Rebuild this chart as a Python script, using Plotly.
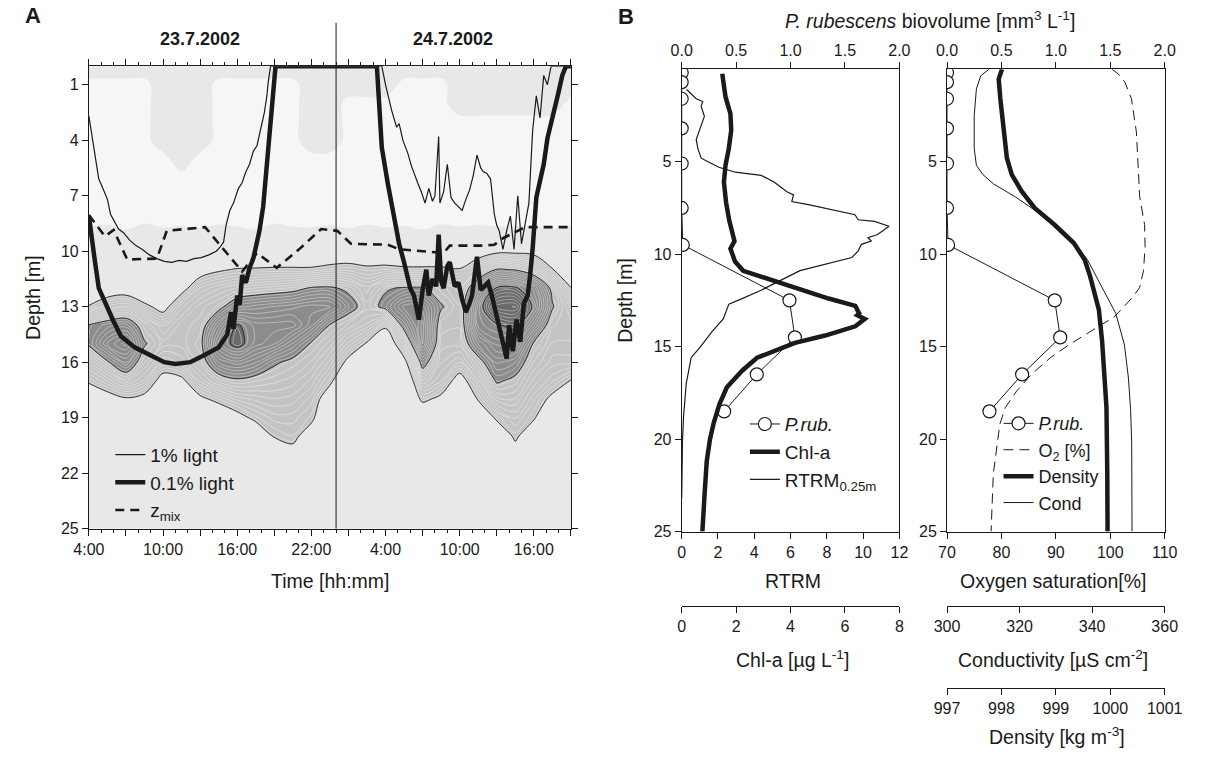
import numpy as np
import plotly.graph_objects as go

# ---------------- Panel A data ----------------
hours = [4, 5.5, 7, 8.5, 10, 11.5, 13, 14.5, 16, 17.5, 19, 20.5, 22, 23.5, 25,
         26.5, 28, 29.5, 31, 32.5, 34, 35.5, 37, 38.5, 40, 41.5, 43]
grid_depths = list(range(26))
# P. rubescens biovolume profiles (one per time column, depth 0..25 m)
biovol_profiles = [
    [0.3,0,0,0,0,0,0,0,0,0.15, 0.3,0.3,0.3,0.62,1.11,1.13,0.86,0.64,0.36,0.3,0.3,0.3,0.3,0.3,0.3,0.3],
    [0.3,0,0,0,0,0,0,0,0,0.18, 0.3,0.3,0.42,0.79,1.2,1.38,1.08,0.78,0.48,0.3,0.3,0.3,0.3,0.3,0.3,0.3],
    [0.3,0,0,0,0,0,0,0,0,0.12, 0.3,0.3,0.45,0.85,1.25,1.5,1.28,0.95,0.57,0.3,0.3,0.3,0.3,0.3,0.3,0.3],
    [0.3,0,0,0,0,0,0,0,0,0.2, 0.3,0.3,0.36,0.66,1.0,1.12,0.98,0.81,0.51,0.3,0.3,0.3,0.3,0.3,0.3,0.3],
    [0.3,0.3,0.3,0.3,0.3,0,0,0,0,0.14, 0.3,0.3,0.3,0.51,0.81,0.95,0.78,0.48,0.3,0.3,0.3,0.3,0.3,0.3,0.3,0.3],
    [0.3,0.3,0.3,0.3,0.3,0.3,0,0,0,0.16, 0.3,0.3,0.51,0.81,0.95,0.95,0.84,0.54,0.3,0.3,0.3,0.3,0.3,0.3,0.3,0.3],
    [0.3,0.3,0.3,0.3,0.3,0,0,0,0,0.13, 0.3,0.48,0.78,0.95,1.0,1.05,1.0,0.84,0.54,0.3,0.3,0.3,0.3,0.3,0.3,0.3],
    [0.3,0,0,0,0,0,0,0,0,0.18, 0.3,0.57,0.87,1.04,1.34,1.5,1.28,1.0,0.67,0.36,0.3,0.3,0.3,0.3,0.3,0.3],
    [0.3,0,0,0,0,0,0,0,0,0.15, 0.3,0.62,0.93,1.25,1.62,1.66,1.36,1.07,0.79,0.51,0.3,0.3,0.3,0.3,0.3,0.3],
    [0.3,0,0,0,0,0,0,0,0,0.12, 0.3,0.63,0.98,1.3,1.5,1.5,1.28,1.03,0.84,0.66,0.39,0.3,0.3,0.3,0.3,0.3],
    [0.3,0,0,0,0,0,0,0,0,0.19, 0.33,0.64,1.01,1.33,1.5,1.43,1.13,0.99,0.87,0.75,0.62,0.36,0.3,0.3,0.3,0.3],
    [0.3,0,0,0,0,0,0,0,0,0.15, 0.33,0.64,1.04,1.36,1.5,1.27,1.05,0.95,0.85,0.75,0.67,0.5,0.3,0.3,0.3,0.3],
    [0.3,0.3,0.3,0.3,0.3,0,0,0,0,0.14, 0.33,0.64,1.12,1.4,1.34,1.08,0.97,0.86,0.75,0.66,0.45,0.3,0.3,0.3,0.3,0.3],
    [0.3,0.3,0.3,0.3,0.3,0,0,0,0,0.17, 0.36,0.69,1.13,1.4,1.09,0.95,0.81,0.66,0.42,0.3,0.3,0.3,0.3,0.3,0.3,0.3],
    [0.3,0.3,0,0,0,0,0,0,0,0.13, 0.39,0.71,1.06,1.19,0.96,0.76,0.54,0.3,0.3,0.3,0.3,0.3,0.3,0.3,0.3,0.3],
    [0.3,0.3,0,0,0,0,0,0,0,0.18, 0.36,0.66,0.9,1.0,0.86,0.58,0.3,0.3,0.3,0.3,0.3,0.3,0.3,0.3,0.3,0.3],
    [0.3,0.3,0,0,0,0,0,0,0,0.14, 0.36,0.68,1.08,1.16,0.66,0.33,0.3,0.3,0.3,0.3,0.3,0.3,0.3,0.3,0.3,0.3],
    [0.3,0,0,0,0,0,0,0,0,0.16, 0.33,0.65,1.12,1.4,1.19,0.85,0.51,0.3,0.3,0.3,0.3,0.3,0.3,0.3,0.3,0.3],
    [0.3,0,0,0,0,0,0,0,0,0.12, 0.33,0.65,1.12,1.4,1.5,1.49,1.19,0.92,0.65,0.36,0.3,0.3,0.3,0.3,0.3,0.3],
    [0.3,0,0,0,0,0,0,0,0,0.18, 0.33,0.65,1.0,1.12,1.0,0.95,0.88,0.78,0.54,0.3,0.3,0.3,0.3,0.3,0.3,0.3],
    [0.3,0.3,0.3,0,0,0,0,0,0,0.15, 0.3,0.62,0.9,0.98,0.98,0.95,0.78,0.48,0.3,0.3,0.3,0.3,0.3,0.3,0.3,0.3],
    [0.3,0.3,0.3,0,0,0,0,0,0,0.17, 0.42,0.89,1.31,1.5,1.5,1.28,1.02,0.81,0.62,0.33,0.3,0.3,0.3,0.3,0.3,0.3],
    [0.3,0.3,0.3,0,0,0,0,0,0,0.15, 0.54,1.12,1.62,1.9,1.58,1.44,1.29,1.13,0.9,0.65,0.36,0.3,0.3,0.3,0.3,0.3],
    [0.3,0.3,0.3,0,0,0,0,0,0,0.15, 0.54,1.09,1.63,1.93,1.66,1.43,1.23,1.05,0.92,0.78,0.65,0.47,0.3,0.3,0.3,0.3],
    [0.3,0.3,0.3,0,0,0,0,0,0,0.15, 0.51,0.95,1.45,1.56,1.34,1.08,0.97,0.86,0.74,0.63,0.39,0.3,0.3,0.3,0.3,0.3],
    [0.3,0.3,0.3,0,0,0,0,0,0,0.13, 0.32,0.62,1.04,1.12,0.98,0.92,0.85,0.74,0.54,0.3,0.3,0.3,0.3,0.3,0.3,0.3],
    [0.3,0.3,0,0,0,0,0,0,0,0.16, 0.3,0.3,0.61,0.85,0.95,0.92,0.85,0.59,0.33,0.3,0.3,0.3,0.3,0.3,0.3,0.3],
]

light1_h = [4.0, 4.2, 4.4, 4.6, 4.8, 5.0, 5.3, 5.5, 5.75, 6.0, 6.4, 6.8, 7.3, 7.8, 8.3, 8.9, 9.5,
            10.1, 10.7, 11.3, 11.9, 12.5, 13.1, 13.7, 14.3, 14.6, 14.9, 15.1, 15.4, 15.7, 16.1,
            16.4, 16.7, 17.0, 17.3, 17.6, 17.8, 18.0, 18.2, 18.4, 18.5, 18.7, 27.7, 28.0, 28.2,
            28.5, 28.9, 29.1, 29.4, 29.8, 30.1, 30.3, 30.6, 30.9, 31.2, 31.5, 31.8, 32.0, 32.3,
            32.4, 32.7, 33.0, 33.3, 33.6, 34.2, 34.5, 34.8, 35.1, 35.4, 35.7, 35.9, 36.2, 36.5,
            36.8, 37.0, 37.2, 37.5, 37.8, 38.1, 38.4, 38.7, 39.0, 39.3, 39.6, 39.9, 40.2, 40.5,
            40.8, 41.1, 41.4, 43.0]
light1_d = [2.7, 3.6, 4.4, 5.3, 6.1, 6.4, 6.9, 7.2, 8.0, 8.3, 8.8, 9.0, 9.4, 9.7, 9.9, 10.2, 10.4,
            10.55, 10.6, 10.5, 10.55, 10.4, 10.35, 10.2, 10.0, 9.8, 9.5, 8.6, 7.8, 7.4, 6.6,
            6.3, 5.7, 5.3, 4.6, 4.3, 3.7, 3.2, 2.5, 1.6, 0.9, 0.0, 0.0, 1.0, 1.6,
            2.4, 3.3, 3.1, 4.0, 4.7, 5.4, 5.8, 6.3, 6.8, 7.4, 6.6, 7.3, 7.0, 3.8,
            7.4, 6.8, 5.3, 7.1, 7.4, 7.8, 7.2, 6.7, 5.9, 4.8, 5.5, 5.7, 5.8, 6.1,
            8.0, 8.6, 8.9, 9.9, 8.9, 8.1, 9.9, 7.0, 9.6, 8.4, 7.4, 3.5, 1.6, 2.8,
            0.5, 1.0, 0.0, 0.0]

light01_h = [4.0, 4.2, 4.5, 4.8, 5.3, 6.0, 6.6, 7.7, 8.9, 10.1, 11.0, 12.2, 13.4, 14.5, 15.2,
             15.5, 15.7, 16.0, 16.2, 16.4, 16.7, 17.0, 17.3, 17.8, 18.1, 18.5, 18.8, 19.1, 27.3,
             27.7, 28.2, 28.5, 28.8, 29.1, 29.5, 30.0, 30.3, 30.7, 31.0, 31.3, 31.5, 31.8, 32.1,
             32.3, 32.5, 32.7, 33.0, 33.2, 33.6, 33.9, 34.2, 34.5, 34.8, 35.0, 35.4, 35.7, 36.0,
             36.3, 36.6, 37.0, 37.3, 37.5, 37.8, 38.0, 38.3, 38.6, 38.9, 39.2, 39.5, 39.7, 39.9,
             40.2, 40.5, 40.8, 41.1, 41.6, 42.0, 42.3, 42.6, 43.0]
light01_d = [8.1, 9.2, 10.6, 12.0, 12.8, 13.8, 14.6, 15.2, 15.6, 16.0, 16.1, 16.0, 15.6, 15.2, 14.5,
             13.3, 14.2, 12.4, 12.9, 11.3, 11.7, 10.9, 10.4, 8.9, 7.6, 4.4, 1.7, 0.0, 0.0,
             4.4, 6.4, 7.4, 8.7, 9.6, 10.6, 12.0, 12.4, 13.7, 12.1, 11.0, 12.4, 11.5, 11.9,
             9.1, 11.6, 12.0, 10.8, 10.6, 11.9, 11.7, 12.6, 13.3, 12.8, 12.4, 10.3, 12.1, 11.9,
             11.7, 12.4, 13.5, 14.2, 14.9, 15.8, 14.0, 15.4, 13.7, 14.9, 12.8, 12.4, 11.3, 9.9,
             7.1, 6.2, 5.3, 3.9, 2.6, 1.4, 0.5, 0.0, 0.0]

zmix_h = [4.0, 5.3, 6.0, 7.1, 9.5, 10.3, 13.4, 14.9, 16.4, 17.6, 19.2, 21.0, 22.8, 24.1, 25.2,
          28.2, 29.1, 32.7, 33.2, 35.7, 36.8, 37.5, 39.3, 43.0]
zmix_d = [8.05, 9.2, 8.85, 10.45, 10.4, 8.9, 8.7, 9.9, 11.1, 10.1, 10.9, 9.9, 8.8, 8.9, 9.6,
          9.65, 9.9, 10.1, 9.7, 9.7, 9.65, 9.3, 8.7, 8.7]

midnight = 24
day_labels = ["23.7.2002", "24.7.2002"]
day_label_hours = [13, 33.5]
time_tickvals = [4, 7, 10, 13, 16, 19, 22, 25, 28, 31, 34, 37, 40, 43]
time_ticktext = ["4:00", "", "10:00", "", "16:00", "", "22:00", "", "4:00", "", "10:00", "", "16:00", ""]
depthA_ticks = [1, 4, 7, 10, 13, 16, 19, 22, 25]

# ---------------- Panel B data ----------------
prub_depth = [0.2, 0.7, 1.6, 3.2, 5.1, 7.5, 9.5, 12.5, 14.5, 16.5, 18.5]
prub_biovol = [0.0, 0.0, 0.0, 0.0, 0.0, 0.0, 0.01, 0.99, 1.04, 0.69, 0.39]

chla_depth = [0.25, 1.5, 2.4, 3.3, 4.3, 5.2, 6.1, 7.2, 8.2, 8.9, 9.3, 9.7, 10.4, 10.9, 11.1, 11.5,
              12.0, 12.4, 12.8, 13.2, 13.3, 13.5, 13.9, 14.4, 14.8, 15.1, 15.6, 16.3, 17.2, 18.1,
              19.1, 20.0, 21.2, 23.0, 25.0]
chla_val = [1.49, 1.61, 1.79, 1.82, 1.73, 1.61, 1.55, 1.63, 1.75, 1.87, 1.94, 1.79, 1.96, 2.26, 2.68,
            3.51, 4.58, 5.4, 6.38, 6.52, 6.45, 6.73, 6.38, 5.27, 4.16, 3.61, 2.77, 2.22, 1.66, 1.39,
            1.18, 1.04, 0.92, 0.84, 0.76]

rtrm_depth = [1.1, 1.6, 1.75, 2.0, 2.55, 3.26, 3.8, 4.3, 4.8, 4.95, 5.3, 5.57, 5.74, 6.1, 6.63, 6.8,
              7.16, 7.34, 7.6, 7.87, 8.14, 8.23, 8.49, 8.94, 9.11, 9.29, 9.47, 9.82, 10.18, 10.53,
              10.89, 11.42, 11.95, 12.46, 12.7, 13.5, 14.2, 15.0, 15.6, 17.0, 18.8, 20.2, 21.5, 23.2]
rtrm_val = [0.27, 0.8, 1.16, 1.07, 1.25, 0.98, 0.8, 0.89, 1.07, 1.34, 2.05, 2.95, 4.38, 5.09, 5.8, 6.16,
            6.07, 7.05, 8.3, 9.55, 9.73, 10.63, 11.43, 10.8, 10.27, 10.45, 9.91, 9.73, 9.38, 7.95,
            6.52, 5.45, 4.38, 3.2, 2.6, 2.29, 1.66, 1.04, 0.52, 0.25, 0.1, 0.04, 0.02, 0.0]

o2_depth = [0.0, 0.27, 0.71, 1.6, 3.4, 5.2, 6.9, 8.4, 9.6, 10.9, 11.8, 12.3, 13.4, 13.9, 14.4,
            14.9, 15.6, 16.5, 17.4, 18.3, 19.2, 20.4, 21.9, 25.0]
o2_val = [100.3, 101.5, 102.7, 103.9, 104.8, 105.1, 105.4, 106.3, 106.4, 106.1, 105.4, 104.2, 100.7,
          97.9, 95.2, 92.4, 89.0, 85.5, 82.8, 80.7, 79.7, 79.2, 78.5, 78.1]

dens_depth = [0.0, 0.53, 1.6, 3.4, 4.8, 5.7, 6.6, 7.5, 8.4, 9.4, 10.3, 11.2, 12.3, 13.0, 14.7,
              16.5, 18.3, 21.9, 25.0]
dens_val = [998.01, 997.95, 997.98, 998.04, 998.10, 998.19, 998.37, 998.61, 998.97, 999.33, 999.53,
            999.63, 999.73, 999.79, 999.85, 999.90, 999.93, 999.945, 999.95]

cond_depth = [0.0, 0.36, 1.07, 2.5, 4.3, 5.2, 5.7, 6.2, 6.9, 7.6, 8.5, 9.4, 10.3, 11.2, 12.3, 13.2,
              14.9, 16.7, 18.4, 20.2, 25.0]
cond_val = [311.6, 309.3, 308.1, 307.5, 307.5, 308.1, 309.9, 312.8, 318.8, 324.0, 329.7, 335.1,
            338.7, 341.1, 343.9, 346.5, 348.9, 350.0, 350.6, 350.9, 351.0]

# ---------------- layout geometry ----------------
W, H = 1207, 758
def px(x): return x / W
def py(y): return 1 - y / H

FONT = "Liberation Sans, Arial, Helvetica, sans-serif"
INK = "#1a1a1a"
domA_x = [px(75), px(571)]
domA_y = [py(535), py(67)]
domB_y = [py(538), py(70)]
domBL_x = [px(685), px(909)]
domBR_x = [px(958), px(1182)]

fig = go.Figure()

# ---------------- Panel A contours ----------------
z = np.array(biovol_profiles).T
band_colors = ['#f6f6f6', '#e8e8e8', '#c4c4c4', '#8c8c8c', '#6a6a6a']
fill_scale = [[i / 4, c] for i, c in enumerate(band_colors)]
fig.add_trace(go.Contour(
    x=hours, y=grid_depths, z=z, xaxis='x', yaxis='y', autocontour=False,
    contours=dict(start=0.1, end=1.6, size=0.5, coloring='fill', showlines=False),
    colorscale=fill_scale, showscale=False, line=dict(width=0, smoothing=1),
    hoverinfo='skip', showlegend=False))
fig.add_trace(go.Contour(
    x=hours, y=grid_depths, z=z, xaxis='x', yaxis='y', autocontour=False,
    contours=dict(start=0.625, end=1.975, size=0.05, coloring='lines'),
    colorscale=[[0, 'rgba(255,255,255,0.65)'], [1, 'rgba(255,255,255,0.65)']],
    showscale=False, line=dict(width=0.6, smoothing=1), hoverinfo='skip', showlegend=False))
fig.add_trace(go.Contour(
    x=hours, y=grid_depths, z=z, xaxis='x', yaxis='y', autocontour=False,
    contours=dict(start=0.6, end=1.6, size=0.5, coloring='lines'),
    colorscale=[[0, '#222'], [1, '#222']],
    showscale=False, line=dict(width=0.9, smoothing=1), hoverinfo='skip', showlegend=False))

fig.add_trace(go.Scatter(x=light1_h, y=light1_d, mode='lines', name='1% light',
                         line=dict(color=INK, width=1.2), xaxis='x', yaxis='y', legend='legend'))
fig.add_trace(go.Scatter(x=light01_h, y=light01_d, mode='lines', name='0.1% light',
                         line=dict(color=INK, width=4.5), xaxis='x', yaxis='y', legend='legend'))
fig.add_trace(go.Scatter(x=zmix_h, y=zmix_d, mode='lines', name='z<sub>mix</sub>',
                         line=dict(color=INK, width=2.6, dash='9px,6px'), xaxis='x', yaxis='y',
                         legend='legend'))

# ---------------- Panel B traces ----------------
circle = dict(symbol='circle', size=13, color='white', line=dict(color=INK, width=1.2))
fig.add_trace(go.Scatter(x=prub_biovol, y=prub_depth, mode='lines+markers', name='<i>P.rub.</i>',
                         marker=circle, line=dict(color=INK, width=1), xaxis='x3', yaxis='y2',
                         legend='legend2'))
fig.add_trace(go.Scatter(x=chla_val, y=chla_depth, mode='lines', name='Chl-a',
                         line=dict(color=INK, width=4.5), xaxis='x4', yaxis='y2', legend='legend2'))
fig.add_trace(go.Scatter(x=rtrm_val, y=rtrm_depth, mode='lines', name='RTRM<sub>0.25m</sub>',
                         line=dict(color=INK, width=1.2), xaxis='x2', yaxis='y2', legend='legend2'))

fig.add_trace(go.Scatter(x=prub_biovol, y=prub_depth, mode='lines+markers', name='<i>P.rub.</i>',
                         marker=circle, line=dict(color=INK, width=1), xaxis='x6', yaxis='y3',
                         legend='legend3'))
fig.add_trace(go.Scatter(x=o2_val, y=o2_depth, mode='lines', name='O<sub>2</sub> [%]',
                         line=dict(color=INK, width=1, dash='10px,6px'), xaxis='x5', yaxis='y3',
                         legend='legend3'))
fig.add_trace(go.Scatter(x=dens_val, y=dens_depth, mode='lines', name='Density',
                         line=dict(color=INK, width=4.5), xaxis='x8', yaxis='y3', legend='legend3'))
fig.add_trace(go.Scatter(x=cond_val, y=cond_depth, mode='lines', name='Cond',
                         line=dict(color=INK, width=1), xaxis='x7', yaxis='y3', legend='legend3'))

# ---------------- axes ----------------
tickfont = dict(family=FONT, size=16, color=INK)
common = dict(showline=True, linecolor=INK, linewidth=1, ticks='outside', ticklen=6,
              tickcolor=INK, tickwidth=1, showgrid=False, zeroline=False, tickfont=tickfont)

layout = dict(
    width=W, height=H, margin=dict(l=0, r=0, t=0, b=0),
    paper_bgcolor='white', plot_bgcolor='rgba(0,0,0,0)',
    font=dict(family=FONT, color=INK, size=16),
    xaxis=dict(common, domain=domA_x, range=[4, 43], anchor='y', tickmode='array',
               tickvals=time_tickvals, ticktext=time_ticktext, mirror='ticks',
               minor=dict(tickmode='linear', tick0=4, dtick=1, ticklen=3, ticks='outside',
                          tickcolor=INK, showgrid=False)),
    yaxis=dict(common, domain=domA_y, range=[25, 0], anchor='x', tickmode='array',
               tickvals=depthA_ticks, mirror='ticks'),
    xaxis2=dict(common, domain=domBL_x, range=[0, 12], anchor='y2', tickmode='array',
                tickvals=[0, 2, 4, 6, 8, 10, 12], mirror=True),
    yaxis2=dict(common, domain=domB_y, range=[25, 0], anchor='x2', tickmode='array',
                tickvals=[5, 10, 15, 20, 25], mirror=True),
    xaxis3=dict(common, overlaying='x2', side='top', anchor='y2', range=[0, 2], tickmode='array',
                tickvals=[0, 0.5, 1, 1.5, 2], ticktext=['0.0', '0.5', '1.0', '1.5', '2.0']),
    xaxis4=dict(common, overlaying='x2', anchor='free', position=py(613), range=[0, 8],
                tickmode='array', tickvals=[0, 2, 4, 6, 8]),
    xaxis5=dict(common, domain=domBR_x, range=[70, 110], anchor='y3', tickmode='array',
                tickvals=[70, 80, 90, 100, 110], mirror=True),
    yaxis3=dict(common, domain=domB_y, range=[25, 0], anchor='x5', tickmode='array',
                tickvals=[5, 10, 15, 20, 25], mirror=True),
    xaxis6=dict(common, overlaying='x5', side='top', anchor='y3', range=[0, 2], tickmode='array',
                tickvals=[0, 0.5, 1, 1.5, 2], ticktext=['0.0', '0.5', '1.0', '1.5', '2.0']),
    xaxis7=dict(common, overlaying='x5', anchor='free', position=py(613), range=[300, 360],
                tickmode='array', tickvals=[300, 320, 340, 360]),
    xaxis8=dict(common, overlaying='x5', anchor='free', position=py(696), range=[997, 1001],
                tickmode='array', tickvals=[997, 998, 999, 1000, 1001]),
)
leg_common = dict(xanchor='left', yanchor='top', bgcolor='rgba(0,0,0,0)', borderwidth=0,
                  font=dict(family=FONT, size=19, color=INK), tracegroupgap=0,
                  itemclick=False, itemdoubleclick=False)
layout['legend'] = dict(leg_common, x=px(97), y=py(441))
layout['legend2'] = dict(leg_common, x=px(750), y=py(410))
layout['legend3'] = dict(leg_common, x=px(1011), y=py(410),
                         font=dict(family=FONT, size=18, color=INK))
fig.update_layout(**layout)

# ---------------- text ----------------
def ann(text, x, y, size=19.5, bold=False, angle=0, xref='paper', xanchor='center'):
    if bold:
        text = '<b>' + text + '</b>'
    fig.add_annotation(text=text, x=x, y=y, xref=xref, yref='paper', showarrow=False,
                       textangle=angle, xanchor=xanchor, yanchor='middle',
                       font=dict(family=FONT, size=size, color=INK))

ann('A', px(18), py(16), size=22, bold=True)
ann('B', px(628), py(17), size=22, bold=True)
for lab, hr in zip(day_labels, day_label_hours):
    ann(lab, hr, py(39), size=18, bold=True, xref='x')
ann('Depth [m]', px(18), py(301), angle=-90)
ann('Time [hh:mm]', px(323), py(588))
ann('Depth [m]', px(627), py(304), angle=-90)
ann('<i>P. rubescens</i> biovolume [mm<sup>3</sup> L<sup>-1</sup>]', px(940), py(20))
ann('RTRM', px(800), py(588))
ann('Oxygen saturation[%]', px(1067), py(588))
ann('Chl-a [µg L<sup>-1</sup>]', px(799), py(667))
ann('Conductivity [µS cm<sup>-2</sup>]', px(1067), py(667))
ann('Density [kg m<sup>-3</sup>]', px(1071), py(745))

fig.add_shape(type='line', xref='x', yref='paper', x0=midnight, x1=midnight,
              y0=py(535), y1=py(23), line=dict(color=INK, width=1), layer='above')

fig.write_html("out.html")
